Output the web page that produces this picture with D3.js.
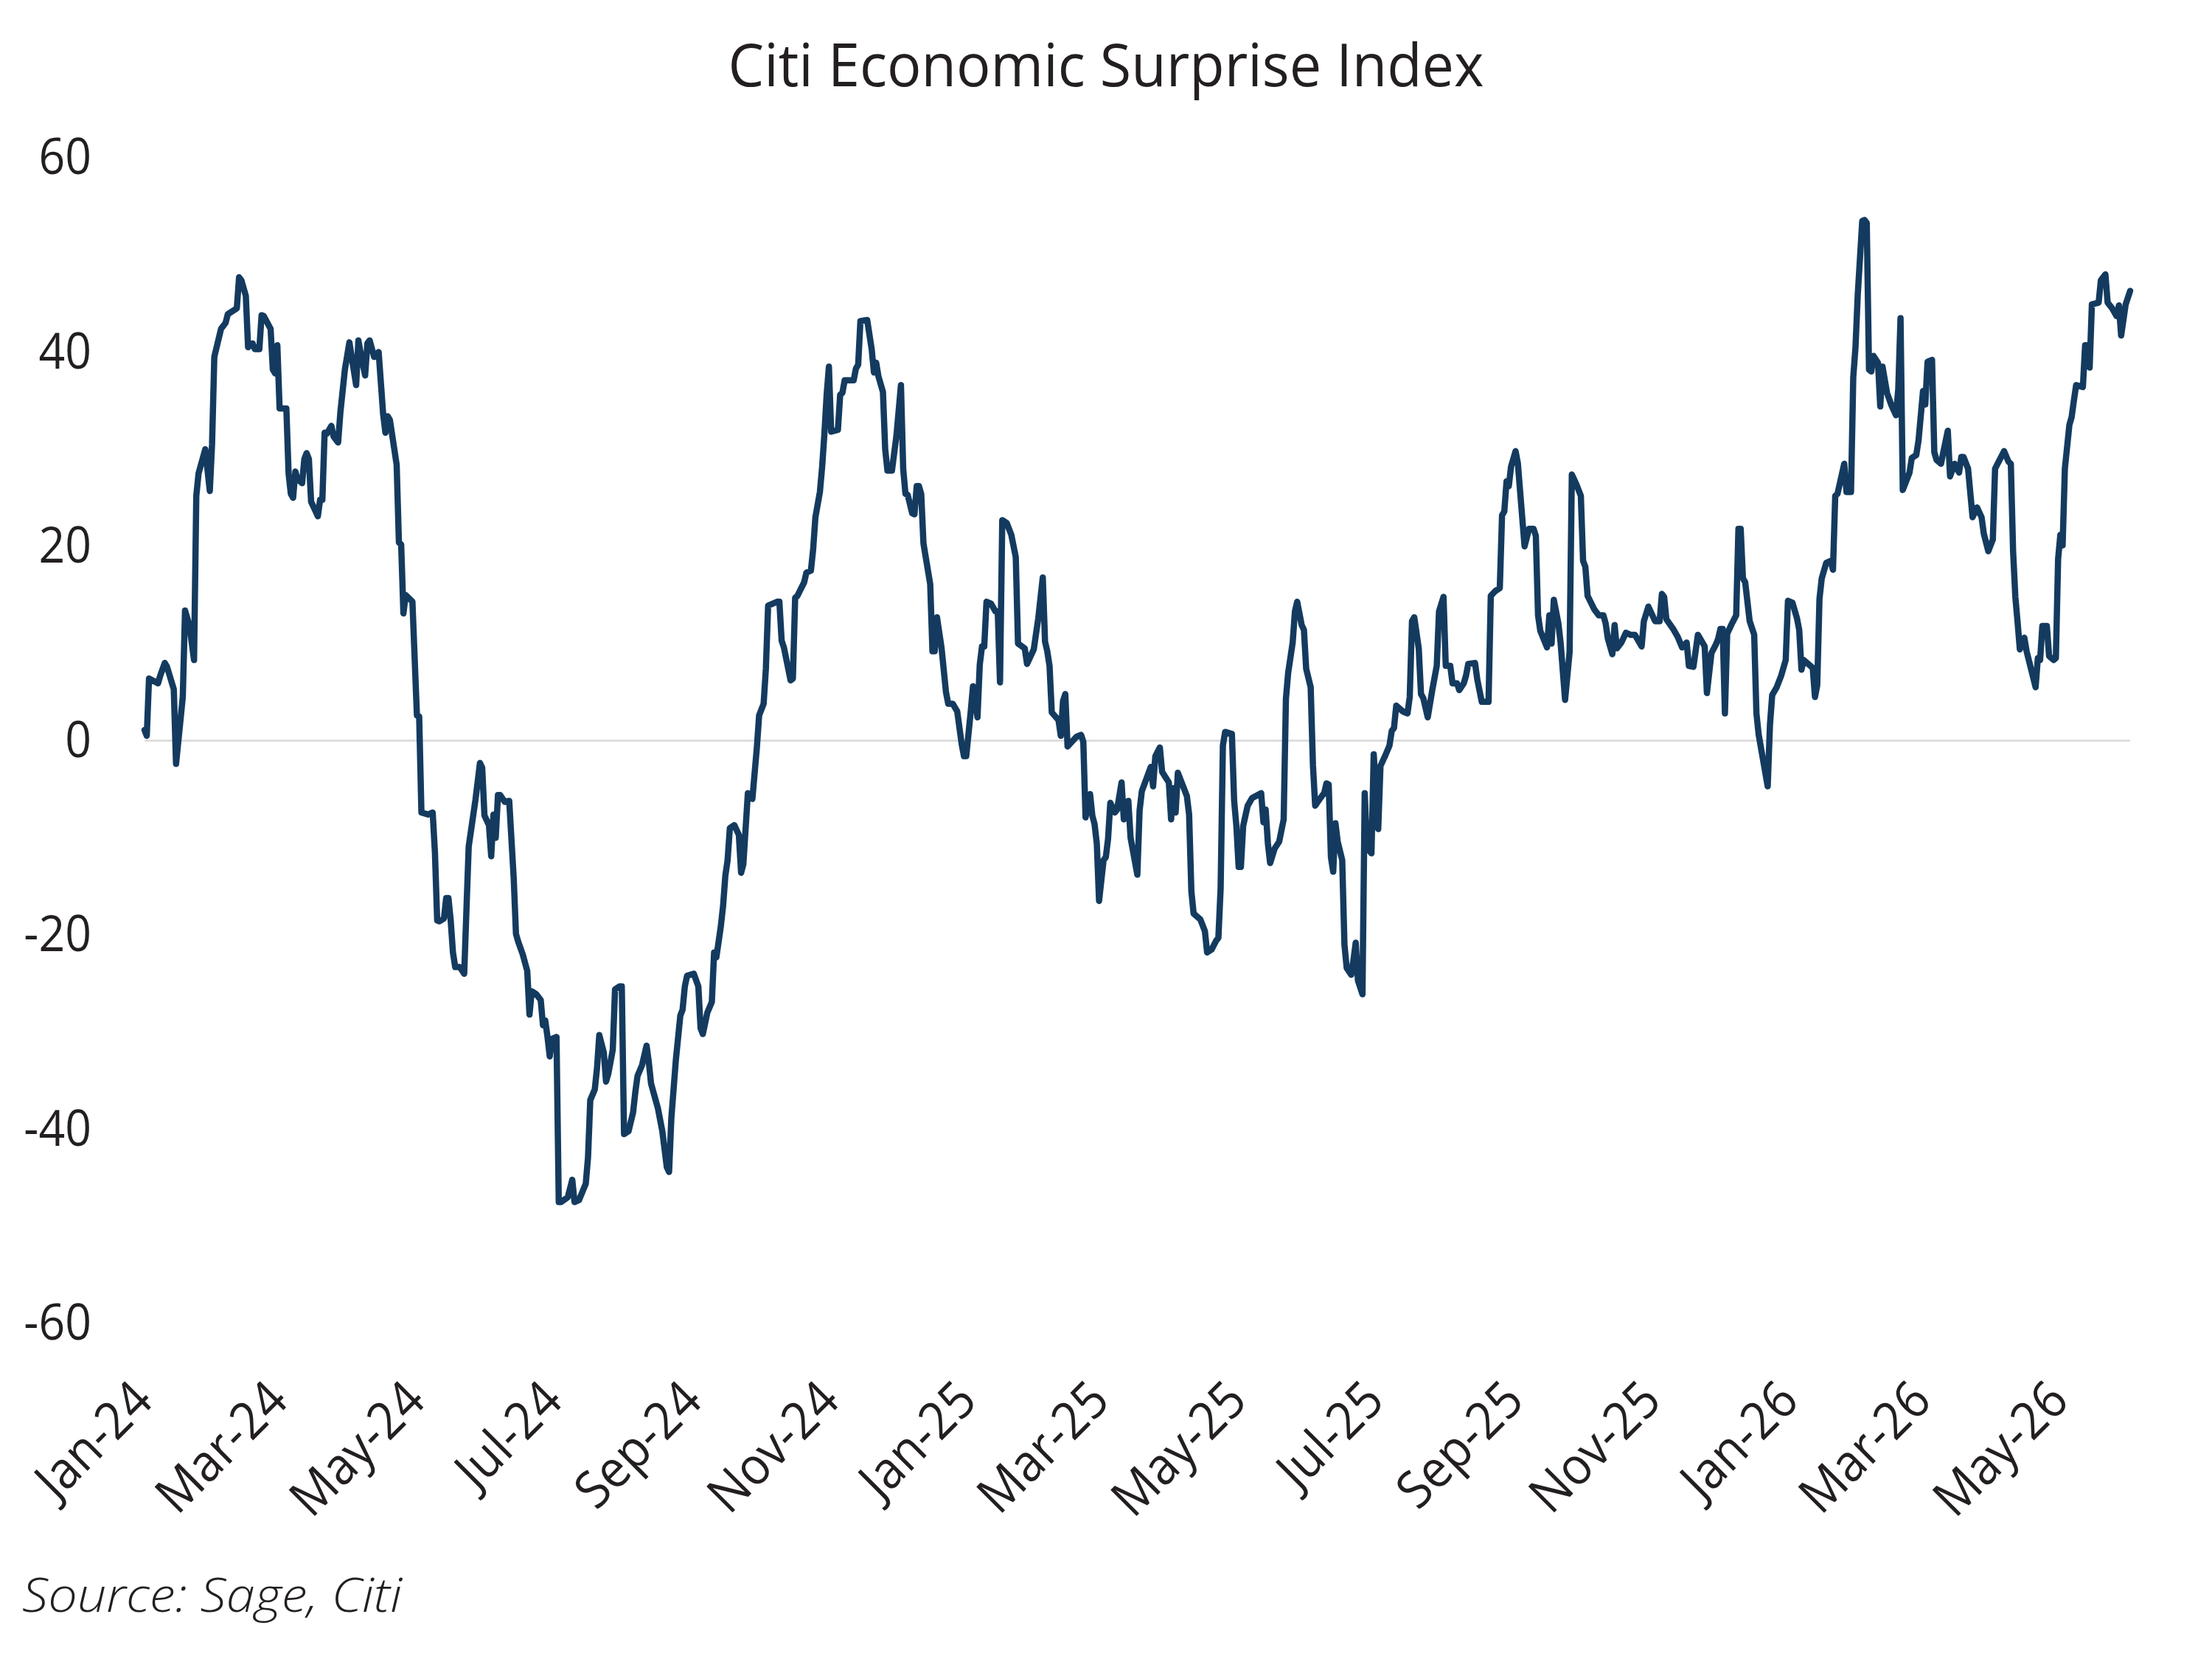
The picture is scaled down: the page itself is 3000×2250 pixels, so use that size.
<!DOCTYPE html>
<html><head><meta charset="utf-8">
<script src="https://cdn.jsdelivr.net/npm/d3@7"></script>
<style>body{margin:0;background:#fff} svg{display:block}</style>
</head><body>
<svg id="chart" width="3000" height="2250"></svg>
<script>
const chartTitle = "Citi Economic Surprise Index";
const sourceNote = "Source: Sage, Citi";
const yTicks = [-60, -40, -20, 0, 20, 40, 60];
const xTickLabels = ["Jan-24","Mar-24","May-24","Jul-24","Sep-24","Nov-24","Jan-25","Mar-25","May-25","Jul-25","Sep-25","Nov-25","Jan-26","Mar-26","May-26"];

const monthKeys = ["2024-01","2024-02","2024-03","2024-04","2024-05","2024-06","2024-07","2024-08","2024-09","2024-10","2024-11","2024-12",
  "2025-01","2025-02","2025-03","2025-04","2025-05","2025-06","2025-07","2025-08","2025-09","2025-10","2025-11","2025-12",
  "2026-01","2026-02","2026-03","2026-04","2026-05","2026-06"];

const dayLists = [
  [1,2,3,7,8,10,11,14,15,18,19,21,23,24,25,28,30,31],
  [1,4,6,7,9,11,12,13,15,16,18,19,21,22,23,26,27,28,29],
  [1,4,5,6,7,8,9,11,12,13,14,15,17,18,19,20,21,22,24,25,27,28,30],
  [1,4,5,6,8,9,10,12,14,16,17,18,19,22,23,24,25,26,29],
  [1,2,3,6,8,9,10,11,13,14,15,16,17,18,20,22,23,24,27,29,30,31],
  [2,3,4,5,6,7,9,11,13,14,15,17,19,20,21,23,25,26,27,28,29,30],
  [2,3,4,7,9,10,12,15,16,17,19,20,21,23,24,25,27,28,30,31],
  [1,3,5,6,7,9,11,12,13,16,18,20,21,22,24,26,27,28,29],
  [1,3,4,5,7,9,10,11,13,14,15,16,17,19,21,22,23,25,27,29,30],
  [2,3,4,8,9,10,11,14,15,16,17,20,21,23,24,25,27,28,29,30,31],
  [1,4,5,6,7,9,11,12,13,14,17,19,20,21,22,24,25,26,28,30],
  [2,3,4,5,7,8,9,10,11,12,13,15,16,17,18,20,22,23,25,27,29,30,31],
  [2,3,4,5,6,7,8,9,11,13,14,15,16,18,20,22,23,26,27,30],
  [1,3,4,5,6,7,10,11,12,13,14,18,20,21,22,24,25,26,27,28],
  [2,3,4,5,7,8,10,11,13,14,17,18,19,23,24,25,27,28,31],
  [1,2,3,4,8,9,10,11,14,16,17,19,21,22,23,24,25,28,29,30],
  [1,2,3,5,7,11,12,13,14,15,17,19,21,22,23,25,26,27,29,30,31],
  [2,3,4,6,8,9,10,11,12,13,14,16,17,18,20,21,22,23,25,26,27,29,30],
  [2,3,5,7,8,9,10,13,15,16,17,18,20,21,22,24,26,28,29,31],
  [1,3,4,6,7,9,10,11,14,15,17,20,21,23,25,26,27,28,29,30],
  [1,2,5,7,9,10,11,12,15,16,17,18,20,21,23,25,26,28,30],
  [1,2,3,6,8,10,11,12,14,15,16,18,20,22,24,27,28,30],
  [2,4,5,6,7,10,12,14,16,17,19,21,24,25,27,29,30],
  [1,2,3,4,6,8,9,10,11,12,14,16,17,18,22,23,24,26,28,30,31],
  [2,4,5,6,7,9,11,12,13,14,15,17,19,20,21,22,25,26,28,29,30,31],
  [2,3,4,5,6,7,9,10,11,13,15,17,18,19,20,23,24,26,27],
  [1,2,3,5,6,7,9,10,12,13,15,17,18,19,21,23,25,27,28,30],
  [1,2,4,6,8,9,10,11,12,13,15,16,20,21,22,23,25,26,28,29,30],
  [1,2,3,5,6,7,8,11,12,13,14,15,18,19,21,22,24,26,27,28,30],
  [1]
];

const valueLists = [
  [1.1,0.5,6.4,5.9,6.7,8.0,7.6,5.3,-2.4,4.5,13.4,11.8,8.3,25.2,27.5,30.0,25.7,30.5],
  [39.5,42.4,43.0,43.9,44.2,44.5,47.7,47.4,45.8,40.5,40.9,40.3,40.3,43.8,43.7,42.4,38.2,37.8,40.7],
  [34.2,34.2,27.5,25.4,25.0,27.7,26.9,26.5,29.0,29.6,29.0,24.6,23.6,23.1,24.8,24.8,31.7,31.6,32.4,31.3,30.7,33.8,38.2],
  [41.0,36.6,41.2,39.9,37.6,40.9,41.2,39.5,40.0,33.6,31.7,33.4,33.0,28.4,20.4,20.2,13.1,15.0,14.3],
  [2.6,2.5,-7.4,-7.6,-7.4,-11.5,-18.5,-18.6,-18.3,-16.2,-16.2,-18.5,-21.8,-23.3,-23.3,-24.0,-17.4,-10.9,-6.1,-2.3,-2.8,-7.7],
  [-8.7,-11.9,-7.6,-10.0,-5.6,-5.6,-6.3,-6.2,-14.2,-19.9,-20.7,-22.0,-23.7,-28.2,-25.8,-26.1,-26.7,-29.3,-28.8,-30.5,-32.5,-30.7],
  [-30.5,-47.5,-47.5,-47.0,-45.2,-47.5,-47.3,-45.6,-42.9,-37.0,-35.9,-33.7,-30.3,-32.1,-35.1,-34.3,-31.8,-25.6,-25.3,-25.3],
  [-40.5,-40.2,-38.3,-36.2,-34.5,-33.4,-31.4,-33.1,-35.3,-37.8,-40.2,-43.9,-44.4,-38.9,-32.9,-28.3,-27.7,-25.3,-24.2],
  [-24.0,-25.3,-29.6,-30.2,-28.0,-26.9,-21.8,-22.3,-19.1,-17.0,-13.9,-12.3,-9.0,-8.7,-9.7,-13.6,-12.7,-5.4,-6.0,-0.7,2.6],
  [3.8,7.4,13.9,14.3,14.3,10.3,9.6,6.2,6.4,14.7,14.9,16.3,17.3,17.5,19.7,23.0,25.6,28.2,31.6,35.6,38.5],
  [31.8,32.0,35.6,35.8,37.1,37.1,37.1,38.3,38.7,43.2,43.3,40.3,37.9,38.9,37.5,35.9,30.0,27.8,27.8,31.4],
  [36.6,28.0,25.4,25.3,23.4,23.3,26.2,26.2,25.4,20.3,18.9,16.1,9.2,9.2,12.7,9.6,5.0,3.8,3.8,3.0,-0.4,-1.6,-1.6],
  [3.0,5.6,4.2,2.4,7.8,9.7,9.7,14.3,14.1,13.3,13.3,6.0,22.7,22.4,21.2,18.9,10.0,9.5,7.9,9.4],
  [12.6,16.8,10.2,9.2,7.7,2.9,2.1,0.5,4.1,4.8,-0.6,0.4,0.6,-0.1,-7.9,-5.5,-7.7,-8.6,-10.6,-16.5],
  [-12.3,-12.0,-10.1,-6.4,-7.4,-7.1,-4.3,-8.1,-6.2,-10.0,-13.8,-7.2,-5.2,-2.7,-4.7,-1.6,-0.7,-3.2,-4.3],
  [-8.1,-4.9,-7.4,-3.3,-5.7,-7.6,-15.5,-17.8,-18.4,-19.6,-21.8,-21.5,-20.6,-20.3,-15.2,-0.5,0.9,0.7,-6.2,-8.8],
  [-13.0,-13.0,-8.8,-6.7,-5.9,-5.4,-8.4,-7.1,-10.6,-12.6,-11.1,-10.4,-8.1,4.3,7.0,10.1,13.3,14.3,11.9,11.4,7.4],
  [5.5,-2.5,-6.7,-6.0,-5.4,-4.4,-4.5,-12.0,-13.5,-8.5,-10.4,-12.3,-21.0,-23.4,-24.1,-22.6,-20.8,-24.7,-26.1,-5.4,-11.0,-11.6,-1.4],
  [-9.1,-2.6,-1.6,-0.5,1.0,1.3,3.6,3.0,2.8,4.5,12.3,12.7,9.5,4.8,4.4,2.4,5.2,7.7,13.3,14.8],
  [7.7,7.7,5.9,5.9,5.2,5.9,6.7,7.9,8.0,6.3,4.0,4.0,14.9,15.4,15.7,23.2,23.6,26.7,26.2,28.2],
  [29.8,28.6,20.0,21.8,21.8,21.1,12.9,11.3,9.6,12.9,10.0,14.5,12.1,10.1,4.2,9.1,27.4,26.4,25.2],
  [18.5,17.9,14.9,13.5,12.9,12.9,12.1,10.5,8.9,11.9,9.5,10.1,11.1,10.9,10.9,9.7,12.3,13.8],
  [12.3,12.3,15.1,14.8,12.5,11.5,10.7,9.6,10.1,7.7,7.6,10.9,9.7,4.9,9.0,9.9,10.5],
  [11.5,11.5,2.8,11.0,12.0,12.9,21.8,21.8,16.7,16.3,12.3,10.9,2.8,0.6,-4.7,1.6,4.7,5.5,6.7,8.3,14.4],
  [14.2,12.6,11.4,7.3,8.3,7.9,7.5,4.5,5.7,14.6,16.7,18.3,18.5,17.6,25.2,25.4,28.5,25.6,25.6,37.4,40.5,45.9],
  [53.5,53.6,53.3,38.2,38.0,39.6,38.9,34.4,38.5,35.8,34.5,33.5,36.2,43.5,25.8,27.6,29.1,29.4,30.9],
  [36.0,34.6,39.0,39.2,29.7,28.9,28.5,29.7,31.9,27.2,28.5,27.6,29.2,29.2,28.0,23.0,24.0,23.0,21.3,19.5],
  [20.7,28.0,28.9,29.8,28.7,28.5,19.5,14.8,12.2,9.4,10.6,9.2,5.5,8.5,8.3,11.8,11.8,8.7,8.3,8.5,18.7],
  [21.2,20.1,28.0,32.5,33.3,35.0,36.6,36.4,40.7,40.7,38.4,44.9,45.1,47.4,48.0,45.1,44.5,43.7,44.8,41.7,44.9],
  [46.3]
];

const parseDay = d3.timeParse("%Y-%m-%d");
const parseTick = d3.timeParse("%b-%y");
const data = [];
monthKeys.forEach((m, i) => {
  dayLists[i].forEach((d, j) => {
    data.push({ date: parseDay(m + "-" + String(d).padStart(2, "0")), value: valueLists[i][j] });
  });
});

const textColor = "#231f20";
const lineColor = "#143b5f";
const fontFamily = "'Open Sans', 'Noto Sans', sans-serif";

const svg = d3.select("#chart");
svg.append("rect").attr("width", 3000).attr("height", 2250).attr("fill", "#fff");

const x = d3.scaleTime().domain(d3.extent(data, d => d.date)).range([196, 2889]);
const y = d3.scaleLinear().domain([-60, 60]).range([1795, 214]);

// zero gridline
svg.append("line")
  .attr("x1", x.range()[0]).attr("x2", x.range()[1])
  .attr("y1", y(0)).attr("y2", y(0))
  .attr("stroke", "#d9d9d9").attr("stroke-width", 2.5);

// y axis
const gy = svg.append("g").attr("transform", `translate(${x.range()[0]},0)`)
  .call(d3.axisLeft(y).tickValues(yTicks).tickSize(0).tickPadding(0).tickFormat(d => String(d)));
gy.select(".domain").remove();
gy.selectAll("text")
  .attr("x", 0)
  .attr("transform", "translate(-72,0) scale(0.92,1)")
  .attr("fill", textColor)
  .style("font-family", fontFamily)
  .style("font-size", "68px");

// x axis
const tickDates = xTickLabels.map(s => parseTick(s));
const gx = svg.append("g").attr("transform", `translate(0,${y(-60)})`)
  .call(d3.axisBottom(x).tickValues(tickDates).tickSize(0).tickPadding(0)
    .tickFormat((d, i) => xTickLabels[i]));
gx.select(".domain").remove();
gx.selectAll("text")
  .attr("x", 0).attr("y", 0).attr("dy", 0)
  .attr("text-anchor", "end")
  .attr("transform", "translate(14,108) rotate(-45) scale(0.93,1)")
  .attr("fill", textColor)
  .style("font-family", fontFamily)
  .style("font-size", "70px");

// line
const line = d3.line().x(d => x(d.date)).y(d => y(d.value));
svg.append("path").datum(data)
  .attr("d", line)
  .attr("fill", "none")
  .attr("stroke", lineColor)
  .attr("stroke-width", 8.5)
  .attr("stroke-linejoin", "round")
  .attr("stroke-linecap", "round");

// title
svg.append("text")
  .attr("x", 1500).attr("y", 117)
  .attr("text-anchor", "middle")
  .attr("textLength", 1025).attr("lengthAdjust", "spacingAndGlyphs")
  .attr("fill", textColor)
  .style("font-family", fontFamily)
  .style("font-size", "80px")
  .text(chartTitle);

// source
svg.append("text")
  .attr("x", 30).attr("y", 2186)
  .attr("textLength", 515).attr("lengthAdjust", "spacingAndGlyphs")
  .attr("fill", textColor)
  .style("font-family", fontFamily)
  .style("font-style", "italic")
  .style("font-weight", 300)
  .style("font-size", "64px")
  .text(sourceNote);
</script>
</body></html>
